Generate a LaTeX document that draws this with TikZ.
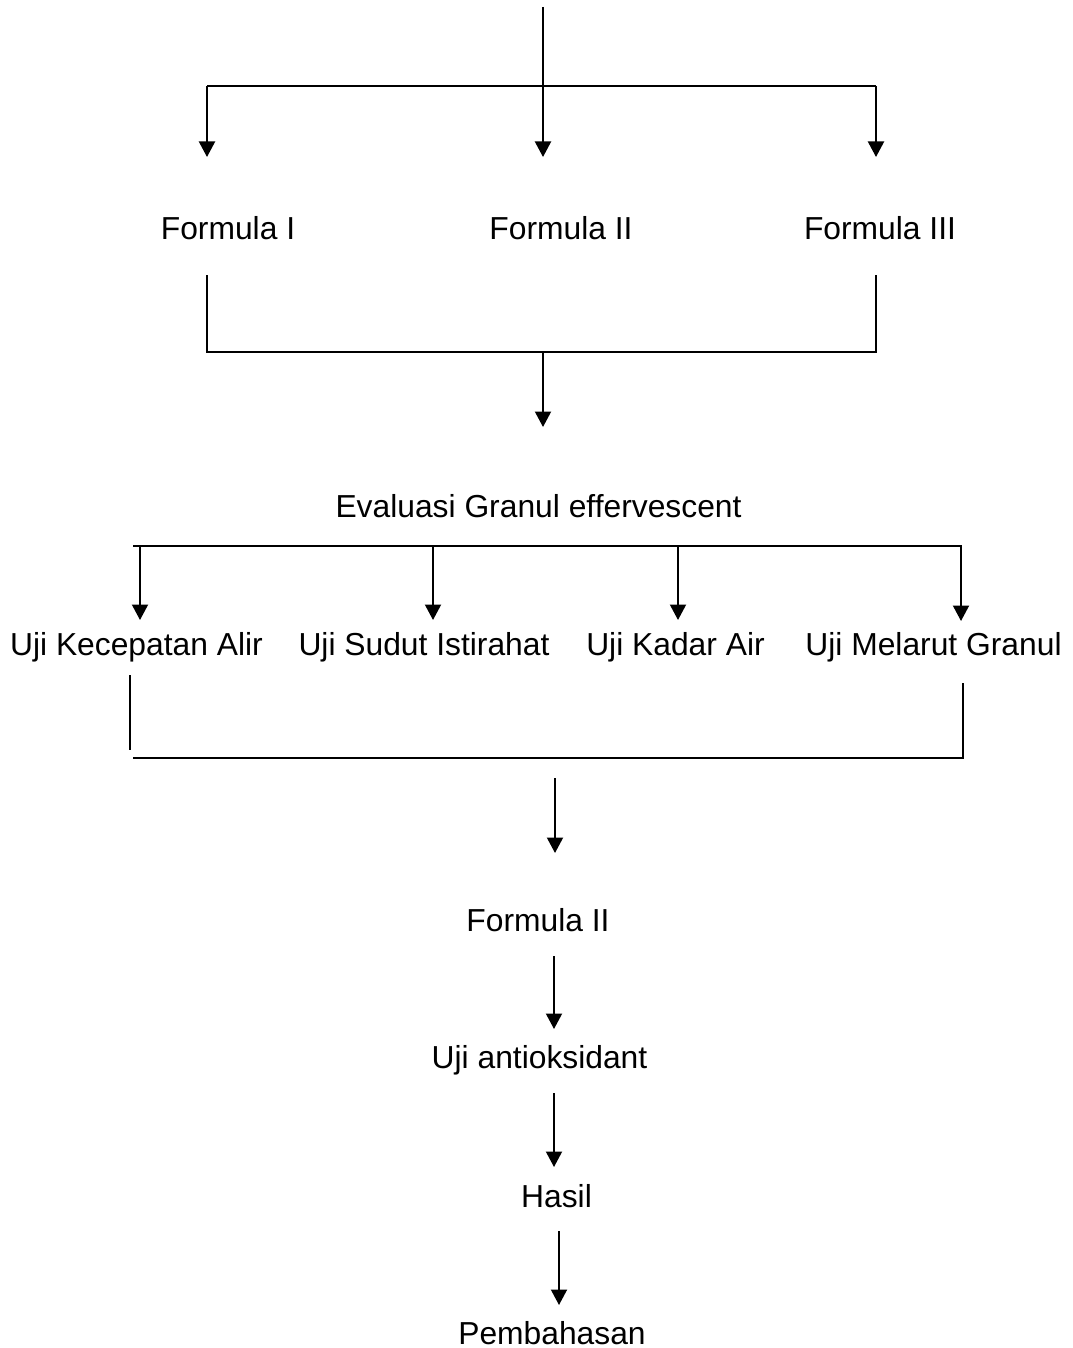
\documentclass[tikz,border=0pt]{standalone}
\usepackage{fontspec}
\setmainfont{Liberation Sans}
\usetikzlibrary{arrows.meta}

\begin{document}
\begin{tikzpicture}[x=1pt, y=-1pt, line width=2pt,
    >={Triangle[length=15.5pt,width=16pt]},
    lbl/.style={font=\fontsize{31.8}{38}\selectfont, anchor=base, inner sep=0pt}]
    \useasboundingbox (0,0) rectangle (1072,1348);

    % the texts
    \node[lbl] (f1) at (228,240) {Formula I};
    \node[lbl] (f2) at (561,240) {Formula II};
    \node[lbl] (f3) at (880,240) {Formula III};
    \node[lbl] (eval) at (538.5,517) {Evaluasi Granul effervescent};
    \node[lbl] (u1) at (136.5,655) {Uji Kecepatan Alir};
    \node[lbl] (u2) at (424,655) {Uji Sudut Istirahat};
    \node[lbl] (u3) at (675.5,655) {Uji Kadar Air};
    \node[lbl] (u4) at (933.5,655) {Uji Melarut Granul};
    \node[lbl] (fsel) at (538,931) {Formula II};
    \node[lbl] (anti) at (539.5,1068) {Uji antioksidant};
    \node[lbl] (hasil) at (556.5,1207) {Hasil};
    \node[lbl] (bahas) at (552,1344) {Pembahasan};

    % the points where the lines start and end
    \coordinate (s0) at (543,7);
    \coordinate (s1) at (207,86);
    \coordinate (s3) at (876,86);
    \coordinate (t1) at (207,157);
    \coordinate (t2) at (543,157);
    \coordinate (t3) at (876,157);

    \coordinate (b1) at (207,275);
    \coordinate (c1) at (207,352);
    \coordinate (b3) at (876,275);
    \coordinate (c3) at (876,352);
    \coordinate (c2) at (543,352);
    \coordinate (e0) at (543,427);

    \coordinate (g1) at (133,546);
    \coordinate (g4) at (962,546);
    \coordinate (h1) at (140,546);
    \coordinate (h2) at (433,546);
    \coordinate (h3) at (678,546);
    \coordinate (h4) at (961,546);
    \coordinate (k1) at (140,620);
    \coordinate (k2) at (433,620);
    \coordinate (k3) at (678,620);
    \coordinate (k4) at (961,621);

    \coordinate (m1) at (130,675);
    \coordinate (n1) at (130,750);
    \coordinate (m4) at (963,683);
    \coordinate (n4) at (963,758);
    \coordinate (p1) at (133,758);

    \coordinate (q1) at (555,778);
    \coordinate (r1) at (555,853);
    \coordinate (q2) at (554,956);
    \coordinate (r2) at (554,1029);
    \coordinate (q3) at (554,1093);
    \coordinate (r3) at (554,1167);
    \coordinate (q4) at (559,1231);
    \coordinate (r4) at (559,1305);

    % draw the first fork
    \draw (s1) -- (s3);
    \draw[->] (s0) -- (t2);
    \draw[->] (s1) -- (t1);
    \draw[->] (s3) -- (t3);

    % draw the join under the formulas
    \draw (b1) -- (c1) -- (c3) -- (b3);
    \draw[->] (c2) -- (e0);

    % draw the fork of the tests
    \draw (g1) -- (g4);
    \foreach \i in {1,...,4}
        \draw[->] (h\i) -- (k\i);

    % draw the join under the tests
    \draw (m1) -- (n1);
    \draw (m4) -- (n4) -- (p1);

    % draw the arrows down
    \foreach \i in {1,...,4}
        \draw[->] (q\i) -- (r\i);

\end{tikzpicture}
\end{document}
